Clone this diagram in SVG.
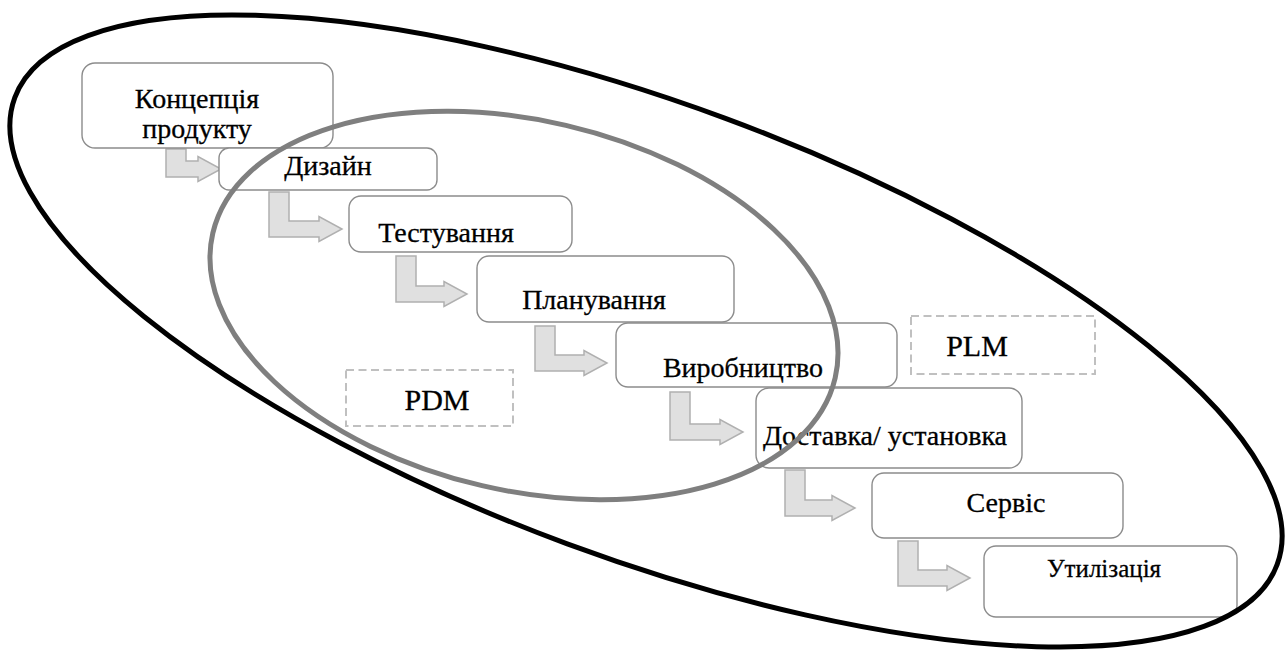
<svg xmlns="http://www.w3.org/2000/svg" width="1287" height="653" viewBox="0 0 1287 653">
  <style>
    .box { fill: #ffffff; stroke: #8c8c8c; stroke-width: 1.4; }
    .arrow { fill: #e0e0e0; stroke: #b0b0b0; stroke-width: 1.5; stroke-linejoin: miter; }
    .dash { fill: #ffffff; stroke: #c0c0c0; stroke-width: 2; stroke-dasharray: 8 4.5; }
    .lbl { font-family: 'Liberation Serif', 'DejaVu Serif', serif; font-size: 28px; fill: #000000; stroke: #000000; stroke-width: 0.3; text-anchor: middle; }
    .big { font-size: 30px; }
    .small { font-size: 25px; }
    .ring { fill: none; }
  </style>
  <rect x="0" y="0" width="1287" height="653" fill="#ffffff"/>

  <g id="connectors">
    <path class="arrow" d="M166,149 H186 V161 H198 V156.5 L221,169 L198,181.5 V177 H166 Z"/>
    <path class="arrow" d="M269,192 H289 V221 H319 V216.5 L342,229 L319,241.5 V237 H269 Z"/>
    <path class="arrow" d="M396,256 H416 V286 H444 V281.5 L467,294 L444,306.5 V302 H396 Z"/>
    <path class="arrow" d="M535,326 H555 V355 H584 V350.5 L607,363 L584,375.5 V371 H535 Z"/>
    <path class="arrow" d="M670,392 H690 V424 H720 V419.5 L743,432 L720,444.5 V440 H670 Z"/>
    <path class="arrow" d="M785,470 H805 V500 H832 V495.5 L855,508 L832,520.5 V516 H785 Z"/>
    <path class="arrow" d="M898,541 H918 V570 H947 V565.5 L970,578 L947,590.5 V586 H898 Z"/>
  </g>

  <g id="node-concept">
    <rect class="box" x="82" y="63" width="251" height="85" rx="13"/>
    <text class="lbl" x="197" y="108">Концепція</text>
    <text class="lbl" x="197" y="138">продукту</text>
  </g>
  <g id="node-design">
    <rect class="box" x="219" y="148" width="218" height="42" rx="10"/>
    <text class="lbl" x="328" y="175">Дизайн</text>
  </g>
  <g id="node-testing">
    <rect class="box" x="349" y="196" width="223" height="56" rx="12"/>
    <text class="lbl" x="446" y="242">Тестування</text>
  </g>
  <g id="node-planning">
    <rect class="box" x="477" y="256" width="257" height="66" rx="12"/>
    <text class="lbl" x="594" y="309">Планування</text>
  </g>
  <g id="node-production">
    <rect class="box" x="616" y="323" width="281" height="64" rx="12"/>
    <text class="lbl" x="743" y="377">Виробництво</text>
  </g>
  <g id="node-delivery">
    <rect class="box" x="756" y="388" width="266" height="80" rx="13"/>
    <text class="lbl" x="885" y="445">Доставка/ установка</text>
  </g>
  <g id="node-service">
    <rect class="box" x="872" y="473" width="251" height="65" rx="12"/>
    <text class="lbl" x="1006" y="512">Сервіс</text>
  </g>
  <g id="node-disposal">
    <rect class="box" x="984" y="546" width="253" height="71" rx="12"/>
    <text class="lbl small" x="1104" y="577">Утилізація</text>
  </g>

  <g id="node-pdm">
    <rect class="dash" x="346" y="370" width="167" height="56"/>
    <text class="lbl big" x="437" y="410">PDM</text>
  </g>
  <g id="node-plm">
    <rect class="dash" x="911" y="316" width="184" height="58"/>
    <text class="lbl big" x="977" y="356">PLM</text>
  </g>

  <g id="scope-pdm">
    <ellipse class="ring" cx="524" cy="305.5" rx="319.5" ry="185" transform="rotate(13.1 524 305.5)" stroke="#7f7f7f" stroke-width="5"/>
  </g>
  <g id="scope-plm">
    <ellipse class="ring" cx="646" cy="331" rx="673" ry="227" transform="rotate(20.3 646 331)" stroke="#000000" stroke-width="5"/>
  </g>
</svg>
